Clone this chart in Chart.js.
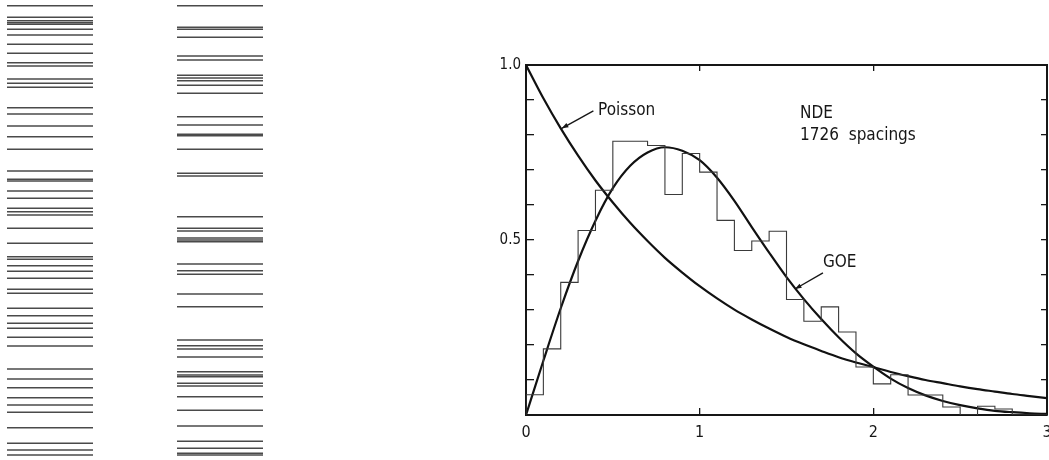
<!DOCTYPE html>
<html>
<head>
<meta charset="utf-8">
<title>Nearest-neighbour spacing distribution</title>
<script src="https://cdn.jsdelivr.net/npm/chart.js@4.4.1/dist/chart.umd.min.js"></script>
<style>
  html, body { margin: 0; padding: 0; background: #fff; }
  #wrap { position: relative; width: 1049px; height: 460px; overflow: hidden; }
  #levels, #spacing { position: absolute; left: 0; top: 0; }
</style>
</head>
<body>
<div id="wrap">
  <canvas id="levels" width="340" height="460" style="width:340px;height:460px"></canvas>
  <canvas id="spacing" width="1049" height="460" style="width:1049px;height:460px"></canvas>
</div>
<script>
// ---- level sequences (energy, arbitrary units) ----
const levelsLeft = [454.3, 442.7, 439.3, 437.3, 435.7, 430.7, 425, 415.7, 406.7, 397.3, 394, 381,
  376.7, 372.7, 352.3, 346, 334, 323.3, 310.7, 289, 280.7, 279, 269, 261.7, 251.7, 248.3, 245,
  231.7, 216.7, 203.3, 200.7, 194.3, 188.7, 181.7, 170.7, 166.7, 151.7, 144.3, 136.7, 131.7,
  122.7, 114, 91, 81, 72.3, 62.3, 55, 47.7, 32.3, 16.7, 10, 5];
const levelsRight = [454.3, 432.7, 430.7, 422.7, 404, 400, 384.7, 382, 379.3, 374.7, 366.7, 343.3,
  335, 325.7, 324.3, 310.7, 286.7, 284, 243.3, 231.7, 229, 222, 220, 218.3, 196, 189.3, 185.7,
  166, 153.3, 120, 114.3, 111, 103, 88.3, 85, 83.3, 76.7, 74, 63.3, 49.7, 34, 18.7, 11.7, 6.7, 5];

// ---- spacing distribution ----
const sValues = [0, 0.1, 0.2, 0.3, 0.4, 0.5, 0.6, 0.7, 0.8, 0.9, 1.0, 1.1, 1.2, 1.3, 1.4, 1.5,
  1.6, 1.7, 1.8, 1.9, 2.0, 2.1, 2.2, 2.3, 2.4, 2.5, 2.6, 2.7, 2.8, 2.9, 3.0];
const poissonValues = [1.000, 0.905, 0.819, 0.741, 0.670, 0.607, 0.549, 0.497, 0.449, 0.407, 0.368,
  0.333, 0.301, 0.273, 0.247, 0.223, 0.202, 0.183, 0.165, 0.150, 0.137, 0.123, 0.111, 0.100,
  0.091, 0.082, 0.074, 0.067, 0.060, 0.054, 0.048];
const goeValues = [0, 0.155, 0.305, 0.440, 0.555, 0.648, 0.712, 0.750, 0.765, 0.755, 0.728,
  0.678, 0.612, 0.537, 0.464, 0.394, 0.331, 0.274, 0.222, 0.176, 0.138, 0.104, 0.077, 0.056,
  0.040, 0.028, 0.019, 0.012, 0.008, 0.005, 0.003];

const binWidth = 0.1;
const binLeft = [0, 0.1, 0.2, 0.3, 0.4, 0.5, 0.6, 0.7, 0.8, 0.9, 1.0, 1.1, 1.2, 1.3, 1.4, 1.5,
  1.6, 1.7, 1.8, 1.9, 2.0, 2.1, 2.2, 2.3, 2.4, 2.5, 2.6, 2.7, 2.8, 2.9];
const binHeight = [0.058, 0.189, 0.379, 0.527, 0.642, 0.782, 0.782, 0.770, 0.630, 0.747, 0.694,
  0.556, 0.470, 0.497, 0.525, 0.330, 0.268, 0.309, 0.237, 0.137, 0.089, 0.115, 0.057, 0.057,
  0.023, 0.000, 0.025, 0.017, 0.000, 0.000];

const xTickLabels = ['0', '1', '2', '3'];
const yTickLabels = { '0.5': '0.5', '1': '1.0' };

// labels and pointer arrows, in data units
const noteTexts = ['Poisson', 'NDE', '1726  spacings', 'GOE'];
const noteX = [0.415, 1.578, 1.578, 1.710];
const noteY = [0.857, 0.849, 0.786, 0.423];
const arrowFrom = [[0.388, 0.869], [1.710, 0.406]];
const arrowTo = [[0.206, 0.819], [1.549, 0.360]];

const FONT = '"DejaVu Sans Condensed", "DejaVu Sans", "Liberation Sans", sans-serif';
const INK = '#161616';
Chart.defaults.font.family = FONT;
Chart.defaults.color = INK;

// ---- level spectra: each level is a short horizontal stroke ----
function levelSet(levels, column) {
  return {
    data: levels.map(e => ({ x: column, y: e })),
    pointStyle: 'line',
    pointRadius: 43,
    pointHoverRadius: 43,
    pointBorderWidth: 1.6,
    pointBorderColor: '#4a4a4a',
    showLine: false,
    clip: false
  };
}

new Chart(document.getElementById('levels'), {
  type: 'scatter',
  data: { datasets: [levelSet(levelsLeft, 0.5), levelSet(levelsRight, 2.2)] },
  options: {
    responsive: false,
    animation: false,
    events: [],
    layout: { padding: 0, autoPadding: false },
    plugins: { legend: { display: false }, tooltip: { enabled: false } },
    scales: {
      x: { type: 'linear', min: 0, max: 3.4, display: false },
      y: { type: 'linear', min: 0, max: 460, display: false }
    }
  }
});

// ---- spacing distribution plot ----
const histPoints = [{ x: binLeft[0], y: 0 }];
binLeft.forEach((l, i) => {
  histPoints.push({ x: l, y: binHeight[i] });
  histPoints.push({ x: l + binWidth, y: binHeight[i] });
});
histPoints.push({ x: binLeft[binLeft.length - 1] + binWidth, y: 0 });

const curve = vals => sValues.map((s, i) => ({ x: s, y: vals[i] }));

const notesPlugin = {
  id: 'notes',
  afterDatasetsDraw(chart) {
    const { ctx, scales: { x, y } } = chart;
    ctx.save();
    ctx.fillStyle = INK;
    ctx.font = '17px ' + FONT;
    ctx.textAlign = 'left';
    ctx.textBaseline = 'alphabetic';
    noteTexts.forEach((t, i) => {
      ctx.fillText(t, x.getPixelForValue(noteX[i]), y.getPixelForValue(noteY[i]));
    });
    ctx.strokeStyle = INK;
    ctx.lineWidth = 1.4;
    arrowFrom.forEach((f, i) => {
      const x0 = x.getPixelForValue(f[0]), y0 = y.getPixelForValue(f[1]);
      const x1 = x.getPixelForValue(arrowTo[i][0]), y1 = y.getPixelForValue(arrowTo[i][1]);
      const a = Math.atan2(y1 - y0, x1 - x0);
      ctx.beginPath();
      ctx.moveTo(x0, y0);
      ctx.lineTo(x1, y1);
      ctx.stroke();
      ctx.beginPath();
      ctx.moveTo(x1, y1);
      ctx.lineTo(x1 - 7 * Math.cos(a - 0.35), y1 - 7 * Math.sin(a - 0.35));
      ctx.lineTo(x1 - 7 * Math.cos(a + 0.35), y1 - 7 * Math.sin(a + 0.35));
      ctx.closePath();
      ctx.fill();
    });
    ctx.restore();
  }
};

const frameGrid = len => ({ drawOnChartArea: false, tickLength: len, color: INK, lineWidth: 1.3 });
const frameBorder = { display: true, color: INK, width: 2 };

new Chart(document.getElementById('spacing'), {
  type: 'line',
  data: {
    datasets: [
      { label: 'histogram', data: histPoints, borderColor: '#3a3a3a', borderWidth: 1.1,
        pointRadius: 0, tension: 0, fill: false },
      { label: 'Poisson', data: curve(poissonValues), borderColor: '#111', borderWidth: 2.2,
        pointRadius: 0, cubicInterpolationMode: 'monotone', fill: false },
      { label: 'GOE', data: curve(goeValues), borderColor: '#111', borderWidth: 2.2,
        pointRadius: 0, cubicInterpolationMode: 'monotone', fill: false }
    ]
  },
  options: {
    responsive: false,
    animation: false,
    events: [],
    layout: { padding: { left: 486, right: 0, top: 63, bottom: 15 } },
    plugins: { legend: { display: false }, tooltip: { enabled: false } },
    scales: {
      x: {
        type: 'linear', position: 'bottom', min: 0, max: 3,
        ticks: { stepSize: 1, autoSkip: false, maxRotation: 0, padding: 15,
                 font: { size: 16 }, color: INK,
                 callback: v => xTickLabels[Math.round(v)] ?? '' },
        grid: frameGrid(-7), border: frameBorder,
        afterFit: s => { s.height = 30; s.paddingLeft = 0; s.paddingRight = 0; }
      },
      xTop: {
        type: 'linear', position: 'top', min: 0, max: 3,
        ticks: { stepSize: 1, callback: () => '' },
        grid: frameGrid(-6), border: frameBorder,
        afterFit: s => { s.height = 2; s.paddingLeft = 0; s.paddingRight = 0; }
      },
      y: {
        type: 'linear', position: 'left', min: 0, max: 1,
        ticks: { stepSize: 0.1, autoSkip: false, padding: 13, font: { size: 15 }, color: INK,
                 callback: v => yTickLabels[String(Math.round(v * 10) / 10)] ?? '' },
        grid: frameGrid(-8), border: frameBorder,
        afterFit: s => { s.width = 40; s.paddingTop = 0; s.paddingBottom = 0; }
      },
      yRight: {
        type: 'linear', position: 'right', min: 0, max: 1,
        ticks: { stepSize: 0.1, callback: () => '' },
        grid: frameGrid(-6), border: frameBorder,
        afterFit: s => { s.width = 2; s.paddingTop = 0; s.paddingBottom = 0; }
      }
    }
  },
  plugins: [notesPlugin]
});
</script>
</body>
</html>
